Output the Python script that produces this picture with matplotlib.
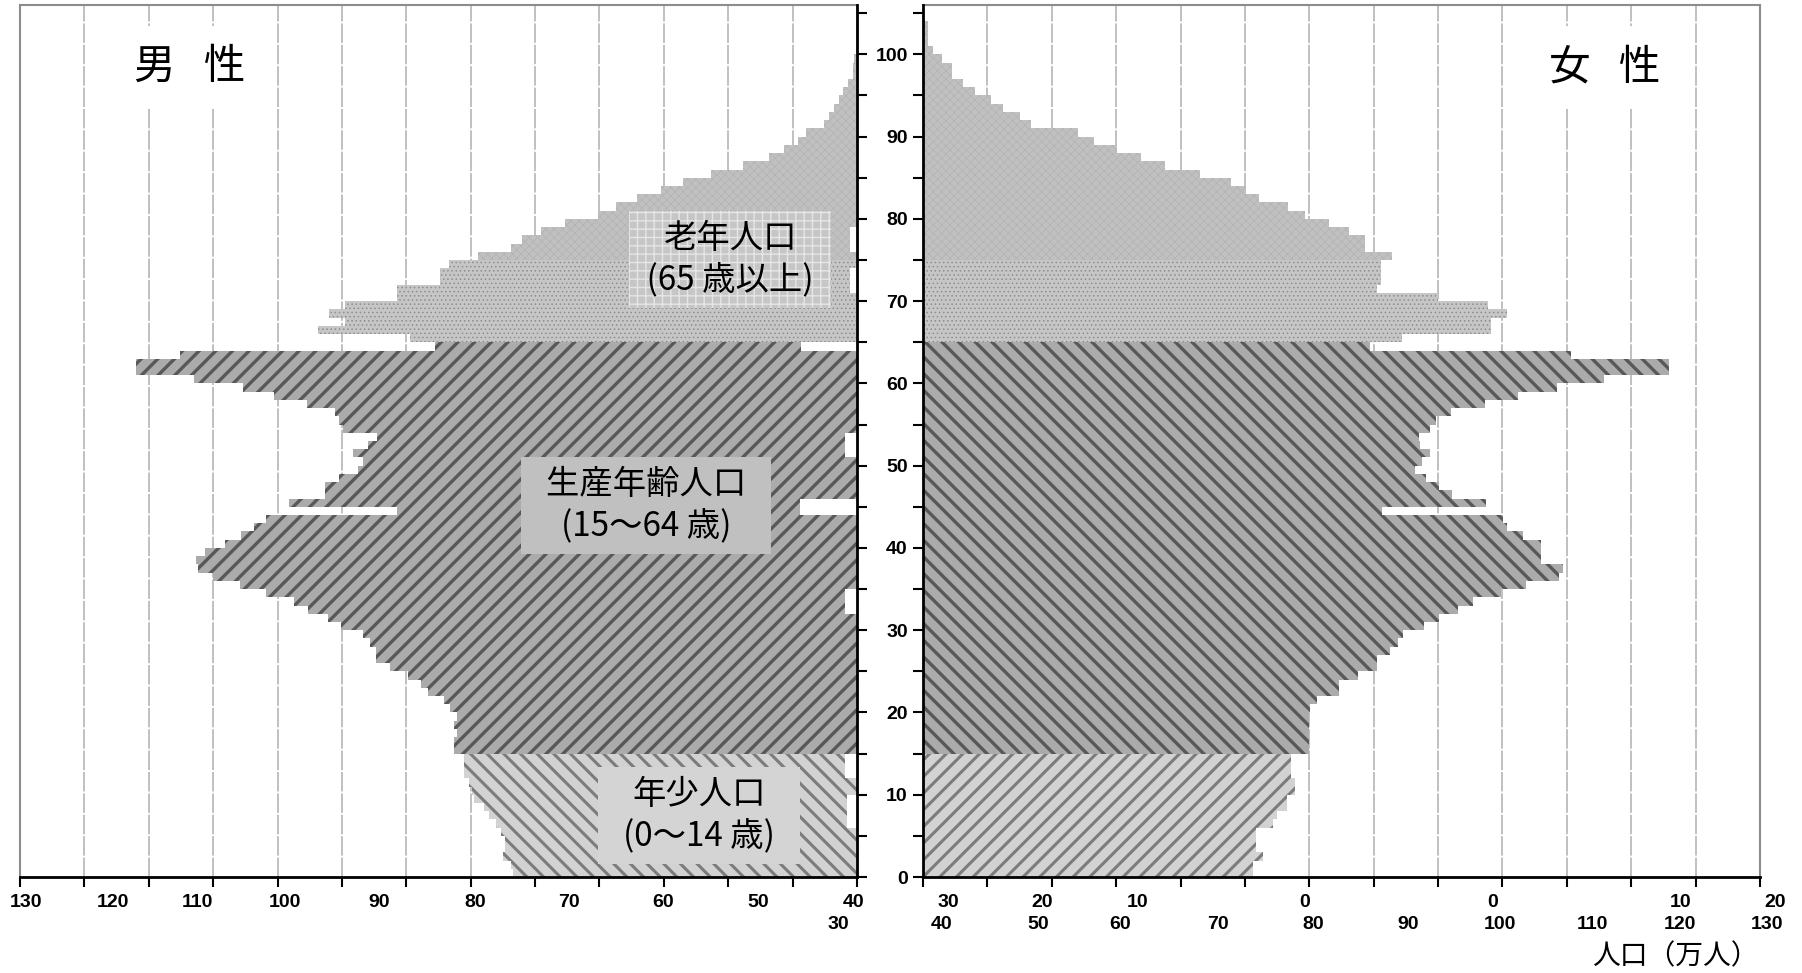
import matplotlib.pyplot as plt
import numpy as np

plt.rcParams['font.family'] = ['Noto Sans CJK JP', 'DejaVu Sans']

# 年齢別人口（万人）、0歳から
male = [53.5, 53.8, 55.0, 54.6, 54.6, 55.3, 56.1, 57.2, 58.0, 59.5,
        59.8, 60.2, 61.1, 61.1, 61.0, 62.6, 62.6, 62.1, 62.6, 62.1,
        63.2, 64.1, 66.6, 67.7, 69.8, 72.5, 74.7, 74.7, 75.6, 76.8,
        80.2, 82.2, 85.2, 87.5, 91.8, 95.9, 100.0, 102.3, 102.7, 101.2,
        98.2, 95.6, 93.7, 91.8, 71.5, 88.2, 82.6, 82.6, 80.5, 77.5,
        76.8, 78.3, 76.0, 74.5, 79.8, 80.5, 81.0, 85.4, 90.5, 95.3,
        102.9, 112.0, 112.0, 105.1, 65.5, 69.5, 83.7, 79.5, 82.0, 79.5,
        71.4, 71.4, 64.7, 64.7, 63.4, 58.9, 53.8, 52.1, 49.1, 45.3,
        40.3, 37.5, 34.1, 30.5, 27.1, 22.6, 17.7, 13.6, 11.3, 9.2,
        7.9, 5.2, 4.3, 3.5, 2.75, 2.1, 1.45, 0.6, 0.6, 0.4, 0.2]
female = [51.3, 51.3, 52.8, 51.7, 51.7, 51.7, 54.3, 55.0, 56.6, 56.6,
          57.8, 57.8, 57.2, 57.2, 57.2, 60.0, 60.0, 60.0, 60.0, 60.0,
          60.1, 61.2, 64.6, 64.6, 67.5, 70.5, 70.5, 72.6, 73.8, 74.6,
          77.8, 80.2, 83.1, 85.5, 89.7, 93.6, 98.8, 99.4, 96.0, 96.0,
          96.0, 93.2, 90.7, 90.1, 71.3, 87.5, 82.1, 80.2, 78.2, 76.4,
          77.5, 78.8, 77.2, 77.0, 78.8, 79.6, 82.0, 87.3, 92.4, 98.4,
          105.7, 115.8, 115.8, 100.7, 69.5, 74.4, 88.2, 88.2, 90.7, 87.8,
          80.0, 70.5, 71.1, 71.1, 71.1, 72.9, 68.6, 68.6, 66.1, 63.1,
          59.4, 56.7, 52.2, 50.2, 47.8, 43.0, 37.6, 33.9, 30.1, 26.6,
          24.1, 16.8, 15.0, 12.5, 10.5, 8.0, 6.2, 4.5, 4.5, 2.9,
          1.6, 0.7, 0.7, 0.7]

# 男性側、中央付近の白い欠け（元図のまま）: 開始年齢, 終了年齢, 幅
gap_start = [6, 12, 32, 44, 51, 64, 71, 76]
gap_end = [10, 15, 35, 46, 54, 65, 74, 79]
gap_width = [1.5, 1.9, 1.9, 8.9, 1.9, 8.7, 1.1, 1.1]

# 年齢区分の境界
bands = [(0, 15), (15, 65), (65, 75), (75, 120)]

# 軸ラベル（元図のまま）
left_labels = ['130', '120', '110', '100', '90', '80', '70', '60', '50', '40']
left_pos = [129.0, 115.6, 102.4, 88.8, 74.2, 59.3, 44.7, 30.1, 15.4, 0.6]
left_extra = ('30', 2.95)
right_row1 = ['30', '20', '10', '0', '0', '10', '20']
right_row1_pos = [3.9, 18.5, 33.4, 59.2, 88.4, 117.6, 132.3]
right_row2 = ['40', '50', '60', '70', '80', '90', '100', '110', '120', '130']
right_row2_pos = [2.95, 17.9, 30.6, 45.8, 60.6, 75.3, 89.6, 103.9, 117.6, 131.1]

W, H = 1802, 973
fig = plt.figure(figsize=(W / 100, H / 100), dpi=100)


def px_axes(x0, y0, x1, y1):
    return fig.add_axes([x0 / W, 1 - y1 / H, (x1 - x0) / W, (y1 - y0) / H])


ax_m = px_axes(20, 5, 857, 877)
ax_f = px_axes(923, 5, 1760, 877)

styles_m = [
    dict(fc='#d2d2d2', hc='#7c7c7c', hatch='\\\\', hlw=2.2),
    dict(fc='#ababab', hc='#585858', hatch='//', hlw=2.4),
    dict(fc='#c6c6c6', hc='#8e8e8e', hatch='....', hlw=0.6),
    dict(fc='#c0c0c0', hc='#b0b0b0', hatch='xxxx', hlw=0.4),
]
styles_f = [
    dict(styles_m[0], hatch='//'),
    dict(styles_m[1], hatch='\\\\'),
    styles_m[2],
    styles_m[3],
]


def draw_bars(ax, values, styles):
    vals = np.array(values)
    ages = np.arange(len(vals))
    for (lo, hi), st in zip(bands, styles):
        m = (ages >= lo) & (ages < hi)
        with plt.rc_context({'hatch.linewidth': st['hlw']}):
            bars = ax.barh(ages[m], vals[m], height=1.0, align='edge',
                           color=st['fc'], edgecolor=st['hc'], linewidth=0,
                           hatch=st['hatch'], zorder=2)
        for b in bars:
            if hasattr(b, 'set_hatch_linewidth'):
                b.set_hatch_linewidth(st['hlw'])


draw_bars(ax_m, male, styles_m)
draw_bars(ax_f, female, styles_f)

g0 = np.array(gap_start)
g1 = np.array(gap_end)
ax_m.barh(g0, gap_width, height=g1 - g0, align='edge', color='white',
          linewidth=0, zorder=3)

for ax, inner in ((ax_m, 'right'), (ax_f, 'left')):
    ax.set_ylim(0, 106)
    ax.set_xticks(np.arange(0, 131, 10))
    ax.tick_params(axis='x', length=7, width=1.5, direction='out',
                   labelbottom=False)
    ax.set_yticks(np.arange(0, 101, 10))
    ax.set_yticks(np.arange(5, 106, 10), minor=True)
    ax.grid(axis='x', color='#c0c0c0', lw=1.4, linestyle=(0, (10, 1)))
    ax.set_axisbelow(True)
    outer = 'left' if inner == 'right' else 'right'
    for s in ('top', outer):
        ax.spines[s].set_color('#8c8c8c')
        ax.spines[s].set_linewidth(1.5)
    for s in ('bottom', inner):
        ax.spines[s].set_color('black')
        ax.spines[s].set_linewidth(2)
        ax.spines[s].set_zorder(4)

ax_m.set_xlim(130, 0)
ax_f.set_xlim(0, 130)

ax_m.yaxis.tick_right()
ax_m.tick_params(axis='y', which='both', length=7, width=1.5, direction='out',
                 right=True, left=False, labelright=True, labelleft=False, pad=29.5)
ax_m.set_yticklabels([str(v) for v in range(0, 101, 10)],
                     fontsize=14, fontweight='bold', family=['Liberation Sans', 'DejaVu Sans'])
for t in ax_m.get_yticklabels():
    t.set_horizontalalignment('right')

ax_f.tick_params(axis='y', which='both', length=7, width=1.5, direction='out',
                 left=True, right=False, labelleft=False)

tick_font = dict(fontsize=14, fontweight='bold', family=['Liberation Sans', 'DejaVu Sans'],
                 ha='center', va='center')
tm = ax_m.get_xaxis_transform()
for lab, x in zip(left_labels, left_pos):
    ax_m.text(x, -0.029, lab, transform=tm, **tick_font)
ax_m.text(left_extra[1], -0.055, left_extra[0], transform=tm, **tick_font)
tf = ax_f.get_xaxis_transform()
for lab, x in zip(right_row1, right_row1_pos):
    ax_f.text(x, -0.029, lab, transform=tf, **tick_font)
for lab, x in zip(right_row2, right_row2_pos):
    ax_f.text(x, -0.055, lab, transform=tf, **tick_font)

ax_m.text(103.6, 98.4, '男   性', fontsize=30, ha='center', va='center', zorder=5,
          bbox=dict(boxstyle='square,pad=0.5', fc='white', ec='none'))
ax_f.text(105.9, 98.4, '女   性', fontsize=30, ha='center', va='center', zorder=5,
          bbox=dict(boxstyle='square,pad=0.5', fc='white', ec='none'))

box_font = dict(fontsize=24, ha='center', va='center', linespacing=1.25, zorder=6)
ax_m.text(19.7, 75.1, '老年人口\n (65 歳以上) ', **box_font,
          bbox=dict(boxstyle='square,pad=0.3', fc='#c6c6c6', ec='#e6e6e6',
                    lw=0, hatch='++'))
ax_m.text(32.8, 45.2, '  生産年齢人口  \n(15〜64 歳)', **box_font,
          bbox=dict(boxstyle='square,pad=0.3', fc='#c0c0c0', ec='none'))
ax_m.text(24.5, 7.5, '年少人口\n  (0〜14 歳)  ', **box_font,
          bbox=dict(boxstyle='square,pad=0.3', fc='#d4d4d4', ec='none'))

fig.text(1675 / W, 1 - 956 / H, '人口（万人）', fontsize=20, ha='center', va='center')

fig.savefig('out.png', dpi=100)
